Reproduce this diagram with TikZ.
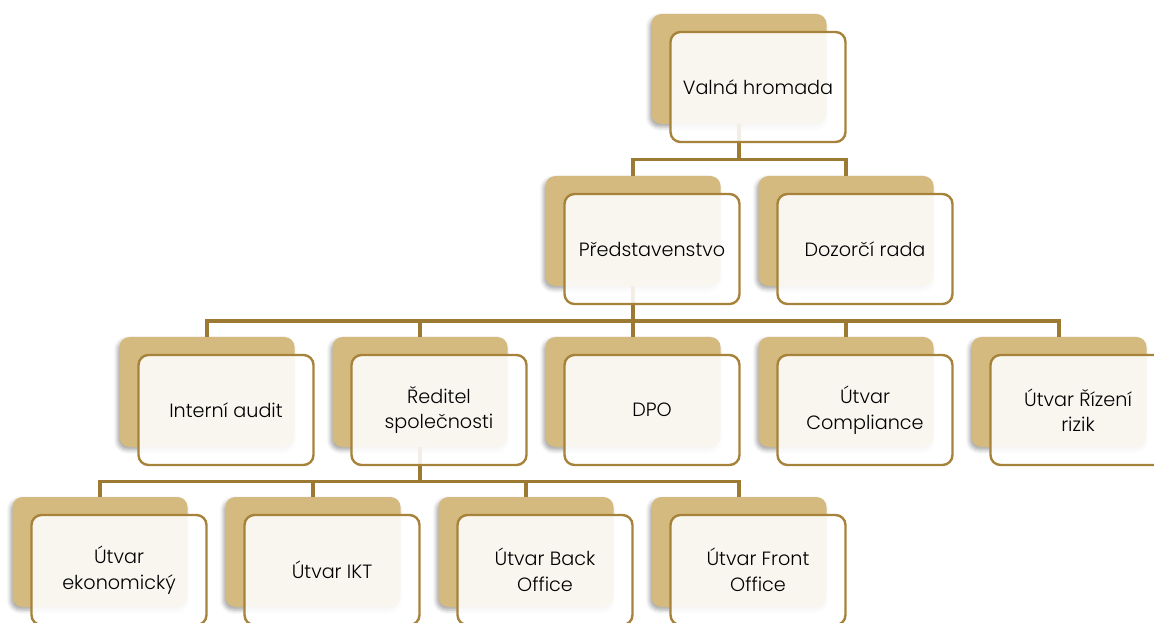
\documentclass[tikz,border=0pt]{standalone}
\usepackage{fontspec}
\setmainfont{Poppins Light}
\usepackage{xcolor}
\usetikzlibrary{calc, shadows.blur}

\definecolor{tanfill}{HTML}{D4BA7F}
\definecolor{goldline}{HTML}{A7823A}
\definecolor{goldconn}{HTML}{9C7A33}

\pgfdeclarelayer{back}
\pgfdeclarelayer{mid}
\pgfsetlayers{back,mid,main}

\begin{document}
\begin{tikzpicture}[
    x=1pt, y=1pt,
    % Node styles
    bgbox/.style={rectangle, rounded corners=10pt, fill=tanfill, minimum width=175pt, minimum height=110pt,
        blur shadow={shadow xshift=-2pt, shadow yshift=-3pt, shadow blur radius=4pt, shadow opacity=35}},
    fgbox/.style={rectangle, rounded corners=10pt, draw=goldline, line width=2.4pt, fill=white, fill opacity=0.88,
        text opacity=1, minimum width=175pt, minimum height=110pt, align=center, font=\fontsize{19.2}{25.5}\selectfont},
    conn/.style={draw=goldconn, line width=3.3pt}
]
\useasboundingbox (0,0) rectangle (1154,622);

% === BACK SHAPES ===
\begin{pgfonlayer}{back}
\node[bgbox] (vh-bg) at (739, 553) {};
\node[bgbox] (pr-bg) at (633, 391) {};
\node[bgbox] (dr-bg) at (846, 391) {};
\node[bgbox] (ia-bg) at (207, 230) {};
\node[bgbox] (rs-bg) at (420, 230) {};
\node[bgbox] (dpo-bg) at (633, 230) {};
\node[bgbox] (uc-bg) at (846, 230) {};
\node[bgbox] (ur-bg) at (1059, 230) {};
\node[bgbox] (ue-bg) at (100, 70) {};
\node[bgbox] (ui-bg) at (313, 70) {};
\node[bgbox] (ub-bg) at (526, 70) {};
\node[bgbox] (uf-bg) at (739, 70) {};
\end{pgfonlayer}

% === FRONT BOXES ===
\node[fgbox] (vh) at ($(vh-bg)+(19,-18)$) {Valná hromada};
\node[fgbox] (pr) at ($(pr-bg)+(19,-18)$) {Představenstvo};
\node[fgbox] (dr) at ($(dr-bg)+(19,-18)$) {Dozorčí rada};
\node[fgbox] (ia) at ($(ia-bg)+(19,-18)$) {Interní audit};
\node[fgbox] (rs) at ($(rs-bg)+(19,-18)$) {Ředitel\\společnosti};
\node[fgbox] (dpo) at ($(dpo-bg)+(19,-18)$) {DPO};
\node[fgbox] (uc) at ($(uc-bg)+(19,-18)$) {Útvar\\Compliance};
\node[fgbox] (ur) at ($(ur-bg)+(19,-18)$) {Útvar Řízení\\rizik};
\node[fgbox] (ue) at ($(ue-bg)+(19,-18)$) {Útvar\\ekonomický};
\node[fgbox] (ui) at ($(ui-bg)+(19,-18)$) {Útvar IKT};
\node[fgbox] (ub) at ($(ub-bg)+(19,-18)$) {Útvar Back\\Office};
\node[fgbox] (uf) at ($(uf-bg)+(19,-18)$) {Útvar Front\\Office};

% === CONNECTORS ===
\begin{pgfonlayer}{mid}
\coordinate (bar1) at ($(vh-bg.south |- vh.south)!0.5!(vh-bg.south |- pr-bg.north)$);
\draw[conn] (vh-bg.south) -- (bar1) -| (pr-bg.north);
\draw[conn] (bar1) -| (dr-bg.north);

\coordinate (bar2) at ($(pr-bg.south |- pr.south)!0.5!(pr-bg.south |- ia-bg.north)$);
\draw[conn] (pr-bg.south) -- (dpo-bg.north);
\foreach \c in {ia, rs, uc, ur}
    \draw[conn] (bar2) -| (\c-bg.north);

\coordinate (bar3) at ($(rs-bg.south |- rs.south)!0.5!(rs-bg.south |- ue-bg.north)$);
\draw[conn] (rs-bg.south) -- (bar3);
\foreach \c in {ue, ui, ub, uf}
    \draw[conn] (bar3) -| (\c-bg.north);
\end{pgfonlayer}

\end{tikzpicture}
\end{document}
